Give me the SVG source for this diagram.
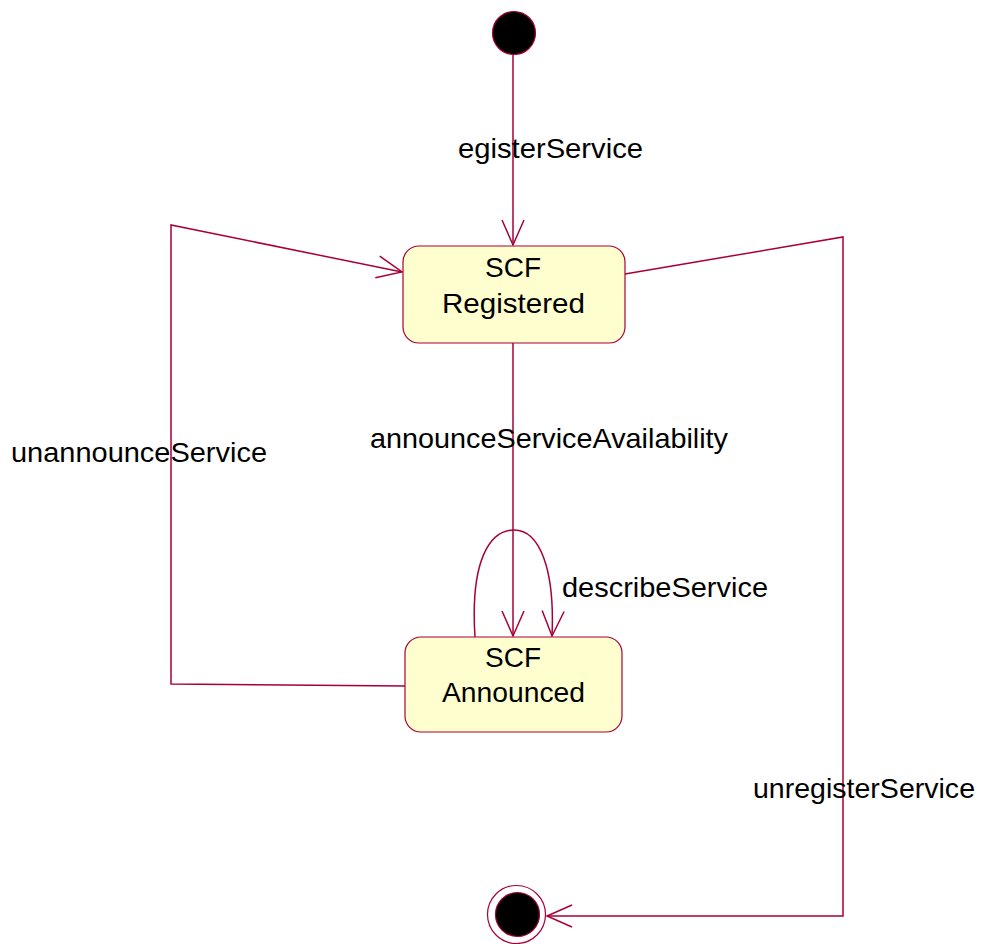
<svg xmlns="http://www.w3.org/2000/svg" width="981" height="944" viewBox="0 0 981 944">
<style>
.edge{fill:none;stroke:#A80036;stroke-width:1.5}
.state{fill:#FEFECE;stroke:#A80036;stroke-width:1.2}
.t{font-family:"Liberation Sans",Arial,sans-serif;font-size:28px;fill:#000}
.c{text-anchor:middle}
</style>
<defs>
<marker id="arr" viewBox="-27 -13 29 26" refX="0" refY="0" markerWidth="29" markerHeight="26" orient="auto" markerUnits="userSpaceOnUse">
<path d="M-25,-11 L0,0 L-25,11" fill="none" stroke="#A80036" stroke-width="1.5"/>
</marker>
</defs>
<rect width="981" height="944" fill="#fff"/>
<g id="connectors">
<path class="edge" d="M513,55 L513,245" marker-end="url(#arr)"/>
<path class="edge" d="M513,343 L513,636" marker-end="url(#arr)"/>
<path class="edge" d="M475,637 C470,560 490,530 514,530 C540,530 555,570 552,636" marker-end="url(#arr)"/>
<path class="edge" d="M405,686 L171,684 L171,225 L402,272" marker-end="url(#arr)"/>
<path class="edge" d="M625,274 L843,237 L843,916 L547,916" marker-end="url(#arr)"/>
<text class="t" x="458" y="158" textLength="185" lengthAdjust="spacingAndGlyphs">egisterService</text>
<text class="t" x="370" y="448" textLength="358" lengthAdjust="spacingAndGlyphs">announceServiceAvailability</text>
<text class="t" x="11" y="462" textLength="256" lengthAdjust="spacingAndGlyphs">unannounceService</text>
<text class="t" x="562" y="597" textLength="206" lengthAdjust="spacingAndGlyphs">describeService</text>
<text class="t" x="753" y="798" textLength="222" lengthAdjust="spacingAndGlyphs">unregisterService</text>
</g>
<g id="start">
<circle cx="514" cy="33" r="21.5" fill="#000" stroke="#A80036" stroke-width="1.2"/>
</g>
<g id="registered">
<rect class="state" x="403" y="246" width="222" height="97" rx="16" ry="16"/>
<text class="t c" x="513" y="277">SCF</text>
<text class="t" x="442" y="313" textLength="143" lengthAdjust="spacingAndGlyphs">Registered</text>
</g>
<g id="announced">
<rect class="state" x="405" y="637" width="217" height="95" rx="16" ry="16"/>
<text class="t c" x="513" y="667">SCF</text>
<text class="t" x="442" y="702" textLength="143" lengthAdjust="spacingAndGlyphs">Announced</text>
</g>
<g id="end">
<circle cx="516.5" cy="914.5" r="29" fill="none" stroke="#A80036" stroke-width="1.2"/>
<circle cx="517.5" cy="914.5" r="22" fill="#000" stroke="#A80036" stroke-width="1.2"/>
</g>
</svg>
